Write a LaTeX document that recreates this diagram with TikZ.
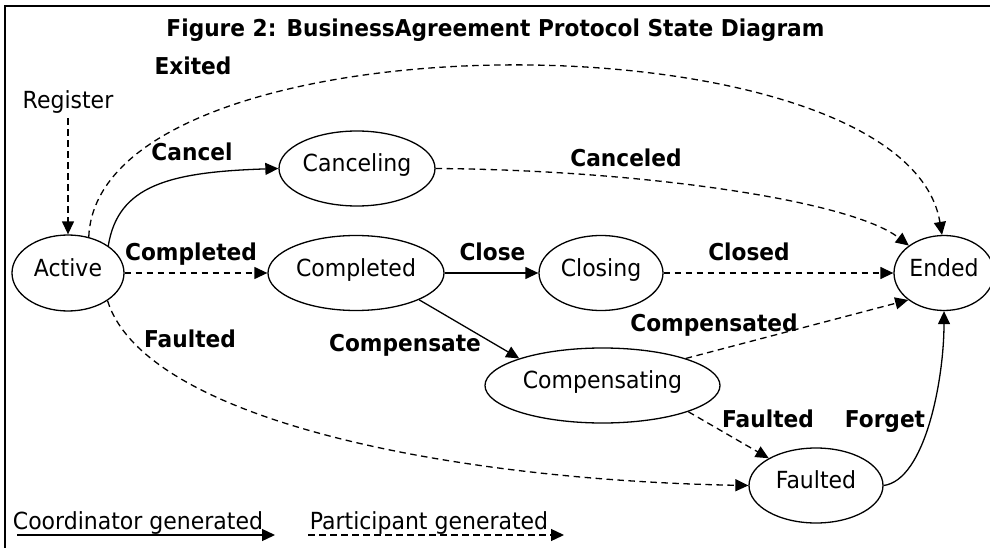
\documentclass[tikz,border=0pt]{standalone}
\usepackage{fontspec}
\setmainfont{DejaVu Sans}
\usetikzlibrary{arrows.meta,shapes.geometric}
\newcommand{\vstr}[1]{\scalebox{1}[1.07]{#1}}
\begin{document}
\begin{tikzpicture}[x=1pt,y=-1pt,
  font=\fontsize{22}{26}\selectfont,
  state/.style={ellipse, draw, line width=1.3pt, inner sep=0pt, text height=12pt, text depth=6pt},
  lbl/.style={font=\fontsize{21.7}{26}\selectfont\bfseries, anchor=base, inner sep=0pt},
  plain/.style={anchor=base, inner sep=0pt},
  co/.style={line width=1.3pt, -{Triangle[length=13pt,width=12pt]}},
  pa/.style={co, dash pattern=on 6.5pt off 4.5pt}]
\clip (0,0) rectangle (990,548);
\draw[line width=1.3pt] (5,6) rectangle (1000,560);

% states
\node[state, minimum width=112pt, minimum height=76pt] (act) at (68,273) {\vstr{Active}};
\node[state, minimum width=156pt, minimum height=75pt] (can) at (357,168.5) {\vstr{Canceling}};
\node[state, minimum width=176pt, minimum height=75pt] (cmp) at (356,273) {\vstr{Completed}};
\node[state, minimum width=124pt, minimum height=75pt] (clo) at (601,273) {\vstr{Closing}};
\node[state, minimum width=100pt, minimum height=75pt] (end) at (944,273) {\vstr{Ended}};
\node[state, minimum width=235pt, minimum height=75pt] (cps) at (602.5,385.5) {\vstr{Compensating}};
\node[state, minimum width=134pt, minimum height=75pt] (flt) at (816,485.5) {\vstr{Faulted}};

% texts
\node[lbl] (title) at (495.5,36.5) {\vstr{Figure 2: BusinessAgreement Protocol State Diagram}};
\node[anchor=base, inner xsep=0pt, inner ysep=4.5pt] (reg) at (68,108.5) {\vstr{Register}};
\node[lbl] (lexit) at (193,75) {\vstr{Exited}};
\node[lbl] (lcan) at (192,161) {\vstr{Cancel}};
\node[lbl] (lcmp) at (191,260) {\vstr{Completed}};
\node[lbl] (lclo) at (492.5,260) {\vstr{Close}};
\node[lbl] (lcand) at (626,166.5) {\vstr{Canceled}};
\node[lbl] (lclod) at (749,260) {\vstr{Closed}};
\node[lbl] (lflt1) at (190,347) {\vstr{Faulted}};
\node[lbl] (lcps) at (405,351) {\vstr{Compensate}};
\node[lbl] (lcpsd) at (714,331) {\vstr{Compensated}};
\node[lbl] (lflt2) at (768,427) {\vstr{Faulted}};
\node[lbl] (lfgt) at (885,427.5) {\vstr{Forget}};
\node[plain] (lgc) at (138,529) {\vstr{Coordinator generated}};
\node[plain] (lgp) at (429,529) {\vstr{Participant generated}};

% connectors
\draw[pa] (reg.south) -- (act.north);
\draw[pa] (act.60) .. controls (98,10) and (905,10) .. (end.93);
\draw[co] (act.34) .. controls (118,185) and (170,172) .. (can.west);
\draw[pa] (act.east) -- (cmp.west);
\draw[co] (cmp.east) -- (clo.west);
\draw[pa] (clo.east) -- (end.west);
\draw[pa] (can.east) .. controls (640,170) and (850,200) .. (end.142);
\draw[co] (cmp.-23) -- (cps.162);
\draw[pa] (cps.18) -- (end.217);
\draw[pa] (cps.-17) -- (flt.150);
\draw[pa] (act.-35) .. controls (145,420) and (450,480) .. (flt.west);
\draw[co] (flt.east) .. controls (925,480) and (944,380) .. (end.south);

% legend
\coordinate (lc1) at (17,535);
\coordinate (lc2) at (275,535);
\coordinate (lp1) at (308,535);
\coordinate (lp2) at (564,535);
\draw[co] (lc1) -- (lc2);
\draw[pa] (lp1) -- (lp2);
\end{tikzpicture}
\end{document}
